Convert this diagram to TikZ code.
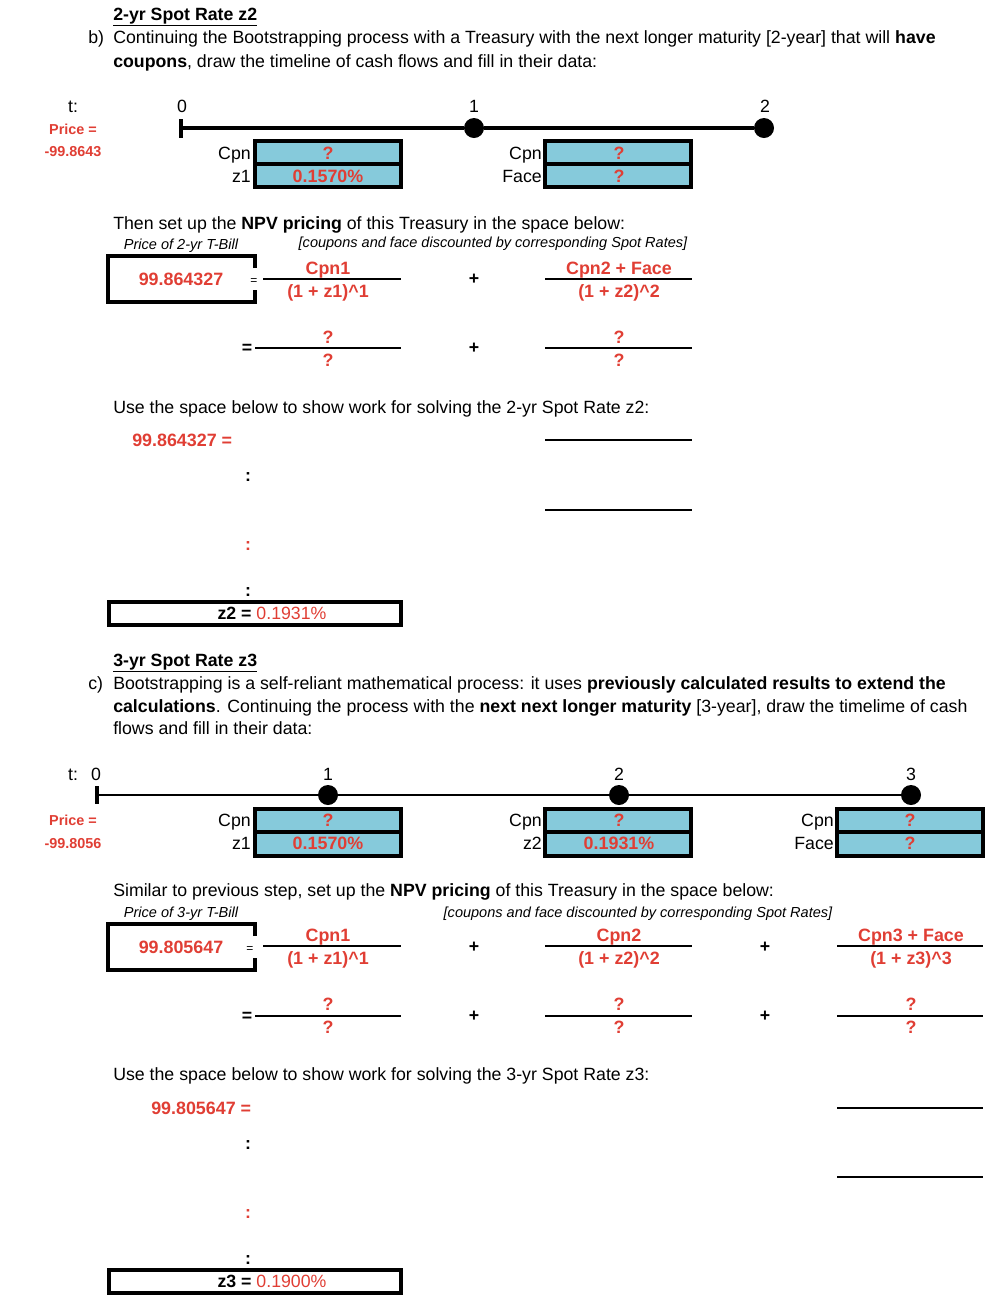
\documentclass[tikz,border=0pt]{standalone}
\usepackage{fontspec}
\setmainfont{Liberation Sans}
\definecolor{rd}{RGB}{224,62,52}
\definecolor{cy}{RGB}{134,202,219}
\newcommand\fbody{\fontsize{13.3}{15}\selectfont}
\newcommand\fred{\fontsize{13.4}{15}\selectfont\bfseries\color{rd}}
\newcommand\fsmall{\fontsize{10.8}{12}\selectfont\bfseries\color{rd}}
\newcommand\fital{\fontsize{10.9}{12}\selectfont\itshape}
\tikzset{
  txt/.style={inner sep=0pt, anchor=base west, font=\fbody},
  ctr/.style={inner sep=0pt, anchor=base, font=\fbody},
  rgt/.style={inner sep=0pt, anchor=base east, font=\fbody},
  redc/.style={inner sep=0pt, anchor=base, font=\fred},
  smallred/.style={inner sep=0pt, anchor=base, font=\fsmall},
  itl/.style={inner sep=0pt, anchor=base, font=\fital},
  cell/.style={draw=black, line width=2.3pt, fill=cy},
  tl/.style={line width=2.6pt},
  dotn/.style={circle, fill=black, inner sep=0pt, minimum size=15pt},
  fr/.style={line width=2.2pt},
  bx/.style={line width=2.4pt},
}
\begin{document}
\begin{tikzpicture}[x=0.75pt,y=-0.75pt]
\useasboundingbox (0,0) rectangle (1006,1304);
% ===== Section b =====
\node[txt, font=\fbody\bfseries] (hb) at (113,20) {\underline{2-yr Spot Rate z2}};
\node[txt] (lb) at (88,43) {b)};
\node[txt] (b1) at (113,43) {Continuing the Bootstrapping process with a Treasury with the next longer maturity [2-year] that will \textbf{have}};
\node[txt] (b2) at (113,67) {\textbf{coupons}, draw the timeline of cash flows and fill in their data:};
\node[ctr] (tb) at (73,112) {t:};
\node[smallred] (pb) at (73,134) {Price =};
\node[smallred] (pvb) at (73,156) {-99.8643};
\node[ctr] (b0) at (182,112) {0};
\node[ctr] (b1l) at (474,112) {1};
\node[ctr] (b2l) at (765,112) {2};
\coordinate (bt0) at (181,128);
\node[dotn] (bd1) at (474,128) {};
\node[dotn] (bd2) at (764,128) {};
\draw[tl] (bt0) -- (bd1) -- (bd2);
\draw[line width=2.6pt] (181,119) -- (181,138);
% cells b
\draw[cell] (255,141) rectangle (401,187);
\draw[line width=2.3pt] (255,164) -- (401,164);
\draw[cell] (545,141) rectangle (691,187);
\draw[line width=2.3pt] (545,164) -- (691,164);
\node[redc] (bc1) at (328,159) {?};
\node[redc] (bz1) at (328,182) {0.1570\%};
\node[redc] (bc2) at (619,159) {?};
\node[redc] (bf2) at (619,182) {?};
\node[rgt] (bcl1) at (251,159) {Cpn};
\node[rgt] (bzl1) at (251,182) {z1};
\node[rgt] (bcl2) at (542,159) {Cpn};
\node[rgt] (bfl2) at (542,182) {Face};
% NPV b
\node[txt] (bn) at (113,229) {Then set up the \textbf{NPV pricing} of this Treasury in the space below:};
\node[itl] (bpl) at (181,249) {Price of 2-yr T-Bill};
\node[itl] (bcd) at (493,247) {[coupons and face discounted by corresponding Spot Rates]};
\draw[bx] (255,268) -- (255,256) -- (108,256) -- (108,302) -- (255,302) -- (255,290);
\node[redc] (bprice) at (181,285) {99.864327};
\node[inner sep=0pt, anchor=base, font=\fontsize{9}{10}\selectfont] (beq1) at (254,284) {=};
\draw[fr] (263,279) -- (401,279);
\node[redc] (bn1) at (328,274) {Cpn1};
\node[redc] (bd1t) at (328,297) {(1 + z1)\^{}1};
\node[ctr, font=\fbody\bfseries] (bp1) at (474,284) {+};
\draw[fr] (545,279) -- (692,279);
\node[redc] (bn2) at (619,274) {Cpn2 + Face};
\node[redc] (bd2t) at (619,297) {(1 + z2)\^{}2};
\node[ctr, font=\fbody\bfseries] (beq2) at (247,353) {=};
\draw[fr] (255,348) -- (401,348);
\node[redc] (bq1) at (328,343) {?};
\node[redc] (bq2) at (328,366) {?};
\node[ctr, font=\fbody\bfseries] (bp2) at (474,353) {+};
\draw[fr] (545,348) -- (692,348);
\node[redc] (bq3) at (619,343) {?};
\node[redc] (bq4) at (619,366) {?};
% work b
\node[txt] (bw) at (113,413) {Use the space below to show work for solving the 2-yr Spot Rate z2:};
\node[inner sep=0pt, anchor=base west, font=\fred] (bwp) at (132,446) {99.864327 =};
\draw[fr] (545,440) -- (692,440);
\draw[fr] (545,510) -- (692,510);
\node[ctr, font=\fbody\bfseries] (bk1) at (248,481) {:};
\node[ctr, font=\fbody\bfseries\color{rd}] (bk2) at (248,550) {:};
\node[ctr, font=\fbody\bfseries] (bk3) at (248,596) {:};
\draw[bx] (109,602) rectangle (401,625);
\node[inner sep=0pt, anchor=base, font=\fbody] (bz2) at (272,619) {\textbf{z2 =} \textcolor{rd}{0.1931\%}};
% ===== Section c =====
\node[txt, font=\fbody\bfseries] (hc) at (113,666) {\underline{3-yr Spot Rate z3}};
\node[txt] (lc) at (88,689) {c)};
\node[txt] (c1) at (113,689) {Bootstrapping is a self-reliant mathematical process: it uses \textbf{previously calculated results to extend the}};
\node[txt] (c2) at (113,712) {\textbf{calculations}. Continuing the process with the \textbf{next next longer maturity} [3-year], draw the timelime of cash};
\node[txt] (c3) at (113,734) {flows and fill in their data:};
\node[ctr] (tc) at (73,780) {t:};
\node[ctr] (c0) at (96,780) {0};
\node[ctr] (c1l) at (328,780) {1};
\node[ctr] (c2l) at (619,780) {2};
\node[ctr] (c3l) at (911,780) {3};
\coordinate (ct0) at (97,795);
\node[dotn] (cd1) at (328,795) {};
\node[dotn] (cd2) at (619,795) {};
\node[dotn] (cd3) at (911,795) {};
\draw[line width=1.9pt] (ct0) -- (cd1) -- (cd2) -- (cd3);
\draw[line width=2.8pt] (97,786) -- (97,804);
\node[smallred] (pc) at (73,825) {Price =};
\node[smallred] (pvc) at (73,848) {-99.8056};
\draw[cell] (255,809) rectangle (401,856);
\draw[line width=2.3pt] (255,832) -- (401,832);
\draw[cell] (545,809) rectangle (691,856);
\draw[line width=2.3pt] (545,832) -- (691,832);
\draw[cell] (837,809) rectangle (983,856);
\draw[line width=2.3pt] (837,832) -- (983,832);
\node[redc] (cc1) at (328,826) {?};
\node[redc] (cz1) at (328,849) {0.1570\%};
\node[redc] (cc2) at (619,826) {?};
\node[redc] (cz2) at (619,849) {0.1931\%};
\node[redc] (cc3) at (910,826) {?};
\node[redc] (cf3) at (910,849) {?};
\node[rgt] (ccl1) at (251,826) {Cpn};
\node[rgt] (czl1) at (251,849) {z1};
\node[rgt] (ccl2) at (542,826) {Cpn};
\node[rgt] (czl2) at (542,849) {z2};
\node[rgt] (ccl3) at (834,826) {Cpn};
\node[rgt] (cfl3) at (834,849) {Face};
% NPV c
\node[txt] (cn) at (113,896) {Similar to previous step, set up the \textbf{NPV pricing} of this Treasury in the space below:};
\node[itl] (cpl) at (181,917) {Price of 3-yr T-Bill};
\node[itl] (ccd) at (638,917) {[coupons and face discounted by corresponding Spot Rates]};
\draw[bx] (255,936) -- (255,924) -- (108,924) -- (108,970) -- (255,970) -- (255,958);
\node[redc] (cprice) at (181,953) {99.805647};
\node[inner sep=0pt, anchor=base, font=\fontsize{9}{10}\selectfont] (ceq1) at (250,952) {=};
\draw[fr] (263,946) -- (401,946);
\node[redc] (cn1) at (328,941) {Cpn1};
\node[redc] (cd1t) at (328,964) {(1 + z1)\^{}1};
\node[ctr, font=\fbody\bfseries] (cp1) at (474,952) {+};
\draw[fr] (545,946) -- (692,946);
\node[redc] (cn2) at (619,941) {Cpn2};
\node[redc] (cd2t) at (619,964) {(1 + z2)\^{}2};
\node[ctr, font=\fbody\bfseries] (cp2) at (765,952) {+};
\draw[fr] (837,946) -- (983,946);
\node[redc] (cn3) at (911,941) {Cpn3 + Face};
\node[redc] (cd3t) at (911,964) {(1 + z3)\^{}3};
\node[ctr, font=\fbody\bfseries] (ceq2) at (247,1021) {=};
\draw[fr] (255,1016) -- (401,1016);
\node[redc] (cq1) at (328,1010) {?};
\node[redc] (cq2) at (328,1033) {?};
\node[ctr, font=\fbody\bfseries] (cp3) at (474,1021) {+};
\draw[fr] (545,1016) -- (692,1016);
\node[redc] (cq3) at (619,1010) {?};
\node[redc] (cq4) at (619,1033) {?};
\node[ctr, font=\fbody\bfseries] (cp4) at (765,1021) {+};
\draw[fr] (837,1016) -- (983,1016);
\node[redc] (cq5) at (911,1010) {?};
\node[redc] (cq6) at (911,1033) {?};
% work c
\node[txt] (cw) at (113,1080) {Use the space below to show work for solving the 3-yr Spot Rate z3:};
\node[inner sep=0pt, anchor=base west, font=\fred] (cwp) at (151,1114) {99.805647 =};
\draw[fr] (837,1108) -- (983,1108);
\draw[fr] (837,1177) -- (983,1177);
\node[ctr, font=\fbody\bfseries] (ck1) at (248,1149) {:};
\node[ctr, font=\fbody\bfseries\color{rd}] (ck2) at (248,1218) {:};
\node[ctr, font=\fbody\bfseries] (ck3) at (248,1264) {:};
\draw[bx] (109,1270) rectangle (401,1293);
\node[inner sep=0pt, anchor=base, font=\fbody] (cz3) at (272,1287) {\textbf{z3 =} \textcolor{rd}{0.1900\%}};
\end{tikzpicture}
\end{document}
